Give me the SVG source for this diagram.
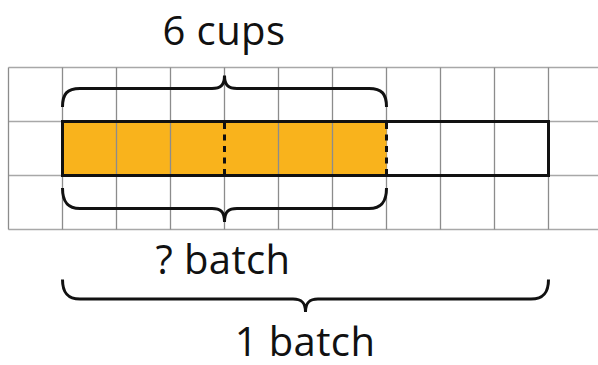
<svg xmlns="http://www.w3.org/2000/svg" width="598" height="365" viewBox="0 0 598 365">
<style>
.grid{stroke:#8c8c8c;stroke-width:1.3;fill:none}
.gridh{stroke:#a8a8a8;stroke-width:1.5;fill:none}
.brace{stroke:#111;stroke-width:3;fill:none;stroke-linecap:butt}
.bar{stroke:#111;stroke-width:3;fill:none}
.dash{stroke:#111;stroke-width:3;stroke-dasharray:6 5.5;fill:none}
.lbl{font-family:"Open Sans","Noto Sans","DejaVu Sans",sans-serif;font-size:40px;fill:#111;text-anchor:middle;letter-spacing:0.4px}
</style>
<rect width="598" height="365" fill="#fff"/>
<g id="grid">
<path class="gridh" d="M8.5,67.5H598M8.5,121.5H598M8.5,175.5H598M8.5,229.5H598"/>
<path class="grid" d="M8.5,67.5V229.5M62.5,67.5V229.5M116.5,67.5V229.5M170.5,67.5V229.5M224.5,67.5V229.5M278.5,67.5V229.5M332.5,67.5V229.5M386.5,67.5V229.5M440.5,67.5V229.5M494.5,67.5V229.5M548.5,67.5V229.5"/>
</g>
<g id="tape">
<rect x="62.5" y="121.5" width="324" height="54" fill="#F9B31C"/>
<path class="grid" d="M116.5,121.5V175.5M170.5,121.5V175.5M278.5,121.5V175.5M332.5,121.5V175.5"/>
<path class="bar" d="M386.5,121.5H548.5V175.5H386.5M386.5,121.5H62.5V175.5H386.5"/>
<path class="dash" d="M224.5,123V175M386.5,123V175"/>
</g>
<g id="braces">
<path class="brace" d="M62.5,107C62.5,94 67,88.5 80,88.5H212C220,88.5 224.5,86 224.5,75.5C224.5,86 229,88.5 237,88.5H369C382,88.5 386.5,94 386.5,107"/>
<path class="brace" d="M62.5,188C62.5,201 67,208.5 80,208.5H212C220,208.5 224.5,211 224.5,222C224.5,211 229,208.5 237,208.5H369C382,208.5 386.5,201 386.5,188"/>
<path class="brace" d="M62.5,279.5C62.5,292 67,299 80,299H293C301,299 305.5,302 305.5,312C305.5,302 310,299 318,299H531C544,299 548.5,292 548.5,279.5"/>
</g>
<g id="labels">
<text class="lbl" x="224" y="45">6 cups</text>
<text class="lbl" x="223" y="274">? batch</text>
<text class="lbl" x="305" y="356">1 batch</text>
</g>
</svg>
